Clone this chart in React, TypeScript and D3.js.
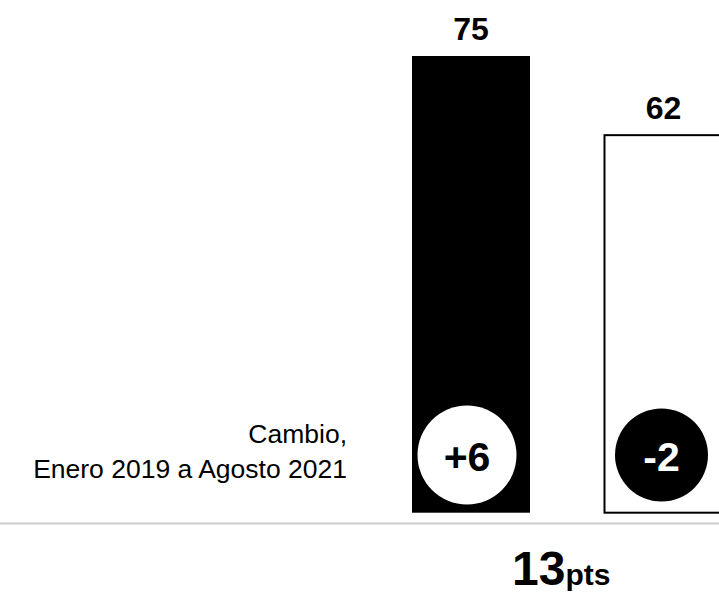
import React from "react";
import * as d3 from "d3";

const categories = ["Actual", "Anterior"];
const values = [75, 62];
const changes = [6, -2];
const changeNote = ["Cambio,", "Enero 2019 a Agosto 2021"];
const gapUnit = "pts";

const W = 719;
const H = 597;
const FONT = "'Liberation Sans', Arial, Helvetica, sans-serif";

const barFill = ["#000000", "#ffffff"];
const circleFill = ["#ffffff", "#000000"];
const circleText = ["#000000", "#ffffff"];
const circleR = [49.5, 46.5];
const circleDx = [-4, -2];

export default function App() {
  const x = d3
    .scaleBand<string>()
    .domain(categories)
    .range([412, 722.5])
    .paddingInner(0.387)
    .paddingOuter(0);
  const y = d3.scaleLinear().domain([0, 75]).range([512.7, 56]);
  const bw = x.bandwidth();
  const gap = values[0] - values[1];
  const fmt = (v: number) => (v > 0 ? `+${v}` : `${v}`);

  return (
    <svg
      width={W}
      height={H}
      style={{ position: "absolute", left: 0, top: 0, background: "#fff" }}
      fontFamily={FONT}
    >
      <rect x={0} y={0} width={W} height={H} fill="#fff" />
      {categories.map((c, i) => {
        const x0 = x(c)!;
        const top = y(values[i]);
        const cx = x0 + bw / 2 + circleDx[i];
        const cy = 455;
        return (
          <g key={c}>
            <rect
              x={x0}
              y={top}
              width={bw}
              height={y(0) - top}
              fill={barFill[i]}
              stroke={i === 1 ? "#000" : "none"}
              strokeWidth={2}
            />
            <text
              x={x0 + bw / 2}
              y={top - 16}
              textAnchor="middle"
              fontWeight="bold"
              fontSize={32}
              fill="#000"
            >
              {values[i]}
            </text>
            <circle cx={cx} cy={cy} r={circleR[i]} fill={circleFill[i]} />
            <text
              x={cx}
              y={cy + 16}
              textAnchor="middle"
              fontWeight="bold"
              fontSize={41}
              fill={circleText[i]}
            >
              {fmt(changes[i])}
            </text>
          </g>
        );
      })}
      <text x={347} y={443} textAnchor="end" fontSize={26.5} fill="#000">
        {changeNote[0]}
      </text>
      <text x={347} y={478} textAnchor="end" fontSize={26.5} fill="#000">
        {changeNote[1]}
      </text>
      <line x1={0} x2={W} y1={523.5} y2={523.5} stroke="#cccccc" strokeWidth={2} />
      <text x={512} y={585} fontWeight="bold" fill="#000">
        <tspan fontSize={48}>{gap}</tspan>
        <tspan fontSize={30}>{gapUnit}</tspan>
      </text>
    </svg>
  );
}
